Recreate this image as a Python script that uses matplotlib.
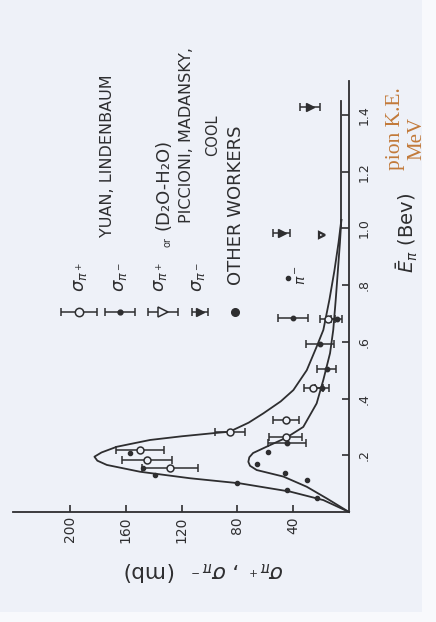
import matplotlib
matplotlib.use("Agg")
import matplotlib.pyplot as plt
from matplotlib.patches import Rectangle

# ---------------- data (E in BeV, sigma in mb) ----------------
pip_curve_E = [0.0, 0.042, 0.072, 0.101, 0.119, 0.142, 0.166, 0.181, 0.195, 0.210, 0.230,
               0.254, 0.267, 0.278, 0.283, 0.315, 0.348, 0.390, 0.430, 0.500, 0.583,
               0.642, 0.750, 0.850, 0.950, 1.030]
pip_curve_s = [0.0, 18.4, 42.3, 78.2, 114.0, 149.9, 173.7, 180.5, 182.6, 177.5, 166.6,
               142.7, 120.0, 97.3, 85.8, 72.0, 61.4, 49.0, 39.9, 30.3, 23.2,
               18.4, 14.0, 10.5, 7.5, 5.5]

pim_curve_E = [0.0, 0.048, 0.089, 0.125, 0.148, 0.163, 0.177, 0.193, 0.208, 0.236, 0.262,
               0.300, 0.383, 0.466, 0.560, 0.642, 0.750, 0.850, 0.950, 1.030]
pim_curve_s = [0.0, 16.0, 30.3, 47.1, 66.2, 71.0, 72.2, 71.5, 68.8, 56.6, 45.0,
               32.8, 23.2, 18.4, 13.6, 11.3, 9.5, 8.0, 6.5, 5.5]

tail_E = [1.0, 1.45]
tail_s = [5.5, 5.5]

# Yuan, Lindenbaum sigma(pi+) : open circles
yl_pip_E = [0.219, 0.183, 0.154, 0.266, 0.283, 0.325, 0.436, 0.680]
yl_pip_s = [149.9, 145.0, 128.3, 45.5, 85.3, 45.2, 25.6, 15.3]
yl_pip_err = [17, 18, 20, 12, 11, 9.5, 7, 5.5]

# Yuan, Lindenbaum sigma(pi-) : filled dots
yl_pim_E = [0.244, 0.436, 0.503, 0.593, 0.685, 0.680]
yl_pim_s = [44.7, 19.6, 16.0, 20.8, 40.0, 8.8]
yl_pim_err = [13.7, 5, 7, 10, 10.7, 4]

# Other workers : small dots
ow_E = [0.130, 0.103, 0.078, 0.048, 0.168, 0.136, 0.113, 0.213, 0.207, 0.154, 0.824]
ow_s = [139.0, 80.5, 44.7, 23.2, 66.2, 45.9, 30.3, 57.9, 157.0, 147.5, 43.5]

# Piccioni, Madansky, Cool
pmc_pip_E = [0.977]
pmc_pip_s = [19.6]
pmc_pim_E = [0.983, 1.43]
pmc_pim_s = [48.2, 28.0]
pmc_pim_err = [6, 7]

# legend sample positions
leg_E = 0.705
leg_s = [193.6, 164.2, 133.4, 106.8, 81.7]
leg_err = [13, 11, 11, 6]

sigma_ticks = [40, 80, 120, 160, 200]
sigma_ticklabels = ["40", "80", "120", "160", "200"]
E_ticks = [0.2, 0.4, 0.6, 0.8, 1.0, 1.2, 1.4]
E_ticklabels = [".2", ".4", ".6", ".8", "1.0", "1.2", "1.4"]

# ---------------- style ----------------
INK = "#2e2e30"
BG = "#eef1f8"
MARGIN = "#f8f9fc"
ORANGE = "#c27a3a"
plt.rcParams["font.family"] = ["DejaVu Sans"]
plt.rcParams["mathtext.fontset"] = "dejavusans"

fig = plt.figure(figsize=(4.36, 6.22), dpi=100, facecolor=MARGIN)
bgax = fig.add_axes([0, 0, 1, 1], zorder=-5)
bgax.set_axis_off()
bgax.set_xlim(0, 1)
bgax.set_ylim(0, 1)
bgax.add_patch(Rectangle((0, 1 - 612 / 622), 422 / 436, 612 / 622,
                         facecolor=BG, edgecolor="none"))

ax = fig.add_axes([13 / 436, 1 - 512 / 622, 336 / 436, 431 / 622])
ax.set_facecolor("none")
ax.set_xlim(241, 0)
ax.set_ylim(0, 1.52)

for sp in ("top", "left"):
    ax.spines[sp].set_visible(False)
for sp in ("bottom", "right"):
    ax.spines[sp].set_color(INK)
    ax.spines[sp].set_linewidth(1.3)

ax.set_xticks(sigma_ticks)
ax.set_xticklabels(sigma_ticklabels)
ax.tick_params(axis="x", direction="in", length=5, width=1.2, pad=3,
               labelsize=10, labelrotation=90, colors=INK)
ax.yaxis.tick_right()
ax.set_yticks(E_ticks)
ax.set_yticklabels(E_ticklabels)
ax.tick_params(axis="y", direction="in", length=5, width=1.2, pad=6,
               labelsize=9, labelrotation=90, colors=INK)
for lab in ax.get_yticklabels():
    lab.set_va("center")

# curves
ax.plot(pip_curve_s, pip_curve_E, color=INK, lw=1.3, clip_on=False)
ax.plot(pim_curve_s, pim_curve_E, color=INK, lw=1.3, clip_on=False)
ax.plot(tail_s, tail_E, color=INK, lw=1.3, clip_on=False)

# data points
ekw = dict(ecolor=INK, elinewidth=1.1, capsize=3, capthick=1.1, clip_on=False)
ax.errorbar(yl_pip_s, yl_pip_E, xerr=yl_pip_err, fmt="o", ms=5, mfc=BG, mec=INK,
            mew=1.1, **ekw)
ax.errorbar(yl_pim_s, yl_pim_E, xerr=yl_pim_err, fmt="o", ms=3.2, mfc=INK, mec=INK, **ekw)
ax.plot(ow_s, ow_E, "o", ms=3, color=INK, clip_on=False)
ax.plot(pmc_pip_s, pmc_pip_E, ">", ms=5, mfc=BG, mec=INK, mew=1.6, clip_on=False)
ax.errorbar(pmc_pim_s, pmc_pim_E, xerr=pmc_pim_err, fmt=">", ms=6, mfc=INK, mec=INK, **ekw)

# legend samples
ax.errorbar([leg_s[0]], [leg_E], xerr=[leg_err[0]], fmt="o", ms=6, mfc=BG, mec=INK,
            mew=1.1, **ekw)
ax.errorbar([leg_s[1]], [leg_E], xerr=[leg_err[1]], fmt="o", ms=3.5, mfc=INK, mec=INK, **ekw)
ax.errorbar([leg_s[2]], [leg_E], xerr=[leg_err[2]], fmt=">", ms=7, mfc=BG, mec=INK,
            mew=1.1, **ekw)
ax.errorbar([leg_s[3]], [leg_E], xerr=[leg_err[3]], fmt=">", ms=6, mfc=INK, mec=INK, **ekw)
ax.plot([leg_s[4]], [leg_E], "o", ms=5.5, color=INK, clip_on=False)

# legend texts
tkw = dict(rotation=90, rotation_mode="anchor", ha="left", va="center", color=INK)
ax.text(192.9, 0.776, r"$\sigma_{\pi^+}$", fontsize=13, **tkw)
ax.text(164.2, 0.776, r"$\sigma_{\pi^-}$", fontsize=13, **tkw)
ax.text(135.5, 0.776, r"$\sigma_{\pi^+}$", fontsize=13, **tkw)
ax.text(108.3, 0.776, r"$\sigma_{\pi^-}$", fontsize=13, **tkw)
ax.text(173.5, 0.97, "YUAN, LINDENBAUM", fontsize=11.5, **tkw)
ax.text(130.5, 0.935, "or", fontsize=7, **tkw)
ax.text(133.4, 0.995, "(D₂O-H₂O)", fontsize=13, **tkw)
ax.text(116.2, 1.019, "PICCIONI, MADANSKY,", fontsize=11.5, **tkw)
ax.text(97.5, 1.33, "COOL", fontsize=10.5, rotation=90, rotation_mode="anchor",
        ha="center", va="center", color=INK)
ax.text(81.0, 0.80, "OTHER WORKERS", fontsize=13, **tkw)
ax.text(33.7, 0.80, r"$\pi^-$", fontsize=10, **tkw)

# axis labels
ax.text(104, -0.208, r"$\sigma_{\pi^+}$ , $\sigma_{\pi^-}$  (mb)", fontsize=15.5, rotation=180,
        ha="center", va="center", color=INK)
ax.text(-41.6, 0.843, r"$\bar{E}_{\pi}$ (Bev)", fontsize=14, **tkw)
ax.text(-33.0, 1.206, "pion K.E.", fontsize=15.5, family="Liberation Serif",
        rotation=90, rotation_mode="anchor", ha="left", va="center", color=ORANGE)
ax.text(-48.8, 1.319, "MeV", fontsize=15, family="Liberation Serif",
        rotation=90, rotation_mode="anchor", ha="center", va="center", color=ORANGE)

fig.savefig("out.png", dpi=100, facecolor=MARGIN)
